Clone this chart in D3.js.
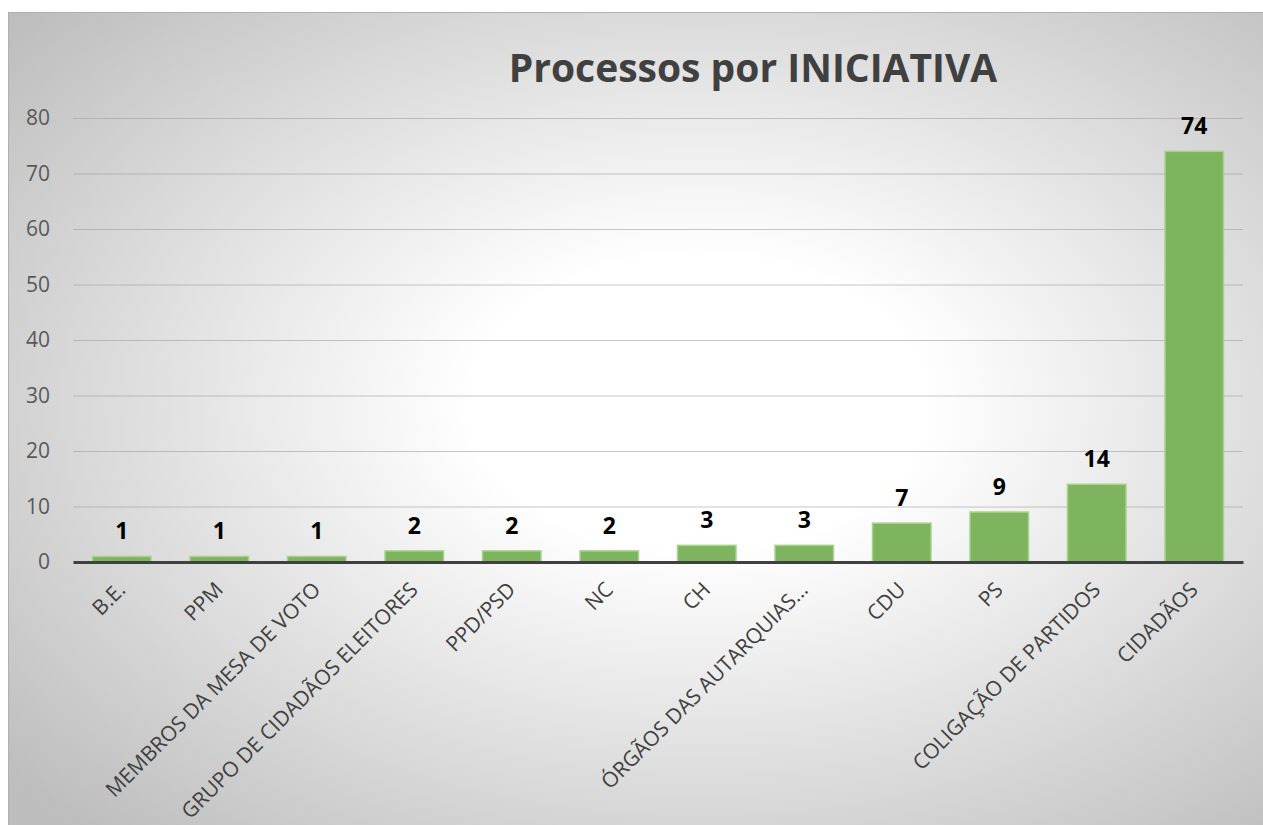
<!DOCTYPE html>
<html>
<head>
<meta charset="utf-8">
<script src="https://cdn.jsdelivr.net/npm/d3@7"></script>
<style>
  body { margin: 0; background: #fff; }
  text { font-family: "Open Sans", "Liberation Sans", sans-serif; }
</style>
</head>
<body>
<div id="chart"></div>
<script>
var categories = ["B.E.", "PPM", "MEMBROS DA MESA DE VOTO", "GRUPO DE CIDADÃOS ELEITORES",
    "PPD/PSD", "NC", "CH", "ÓRGÃOS DAS AUTARQUIAS...", "CDU", "PS",
    "COLIGAÇÃO DE PARTIDOS", "CIDADÃOS"];
var values = [1, 1, 1, 2, 2, 2, 3, 3, 7, 9, 14, 74];
var yTicks = [0, 10, 20, 30, 40, 50, 60, 70, 80];
var title = "Processos por INICIATIVA";

var width = 1263, height = 825;
var margin = {top: 118, right: 20, bottom: 263, left: 73};

var svg = d3.select("#chart")
    .append("svg")
    .attr("width", width)
    .attr("height", height);

var defs = svg.append("defs");
var grad = defs.append("radialGradient")
    .attr("id", "bg")
    .attr("cx", "55%").attr("cy", "48%")
    .attr("r", "72%");
grad.append("stop").attr("offset", "0%").attr("stop-color", "#ffffff");
grad.append("stop").attr("offset", "25%").attr("stop-color", "#ffffff");
grad.append("stop").attr("offset", "100%").attr("stop-color", "#bdbdbd");

svg.append("rect")
    .attr("x", 8.5).attr("y", 12.5)
    .attr("width", width - 8).attr("height", height - 12)
    .attr("fill", "url(#bg)")
    .attr("stroke", "#b0b0b0");

var x = d3.scaleBand()
    .domain(categories)
    .range([margin.left, width - margin.right])
    .paddingInner(0.4)
    .paddingOuter(0.2);

var y = d3.scaleLinear()
    .domain([0, 80])
    .range([height - margin.bottom, margin.top]);

// gridlines
svg.append("g")
    .selectAll("line")
    .data(yTicks.slice(1))
    .enter()
    .append("line")
    .attr("x1", margin.left).attr("x2", width - margin.right)
    .attr("y1", function(d) { return y(d) + 0.5; })
    .attr("y2", function(d) { return y(d) + 0.5; })
    .attr("stroke", "#a0a0a0")
    .attr("stroke-opacity", 0.6)
    .attr("stroke-width", 1);

// y axis labels
var yAxis = svg.append("g")
    .attr("transform", "translate(" + margin.left + ",0)")
    .call(d3.axisLeft(y).tickValues(yTicks).tickSize(0).tickPadding(23));
yAxis.select(".domain").remove();
yAxis.selectAll("text")
    .attr("font-size", 21)
    .attr("fill", "#595959")
    .style("font-family", "Open Sans, sans-serif");

// bars
svg.append("g")
    .selectAll("rect")
    .data(values)
    .enter()
    .append("rect")
    .attr("x", function(d, i) { return x(categories[i]); })
    .attr("y", function(d) { return y(d); })
    .attr("width", x.bandwidth())
    .attr("height", function(d) { return y(0) - y(d); })
    .attr("fill", "#7fb45e")
    .attr("stroke", "#a9d18e")
    .attr("stroke-width", 1.5);

// value labels
svg.append("g")
    .selectAll("text")
    .data(values)
    .enter()
    .append("text")
    .attr("x", function(d, i) { return x(categories[i]) + x.bandwidth() / 2; })
    .attr("y", function(d) { return y(d) - 17; })
    .attr("text-anchor", "middle")
    .attr("font-size", 23)
    .attr("font-weight", "bold")
    .attr("fill", "#000")
    .text(function(d) { return d; });

// x axis
var xAxis = svg.append("g")
    .attr("transform", "translate(0," + y(0) + ")")
    .call(d3.axisBottom(x).tickSize(0).tickPadding(0));
xAxis.select(".domain")
    .attr("stroke", "#404040")
    .attr("stroke-width", 3);
xAxis.selectAll("text")
    .attr("font-size", 21)
    .attr("fill", "#404040")
    .attr("text-anchor", "end")
    .attr("dy", 0)
    .attr("transform", "translate(5,29) rotate(-45)");

// title
svg.append("text")
    .attr("x", 753)
    .attr("y", 82)
    .attr("text-anchor", "middle")
    .attr("font-size", 39)
    .attr("font-weight", "bold")
    .attr("fill", "#404040")
    .text(title);
</script>
</body>
</html>
